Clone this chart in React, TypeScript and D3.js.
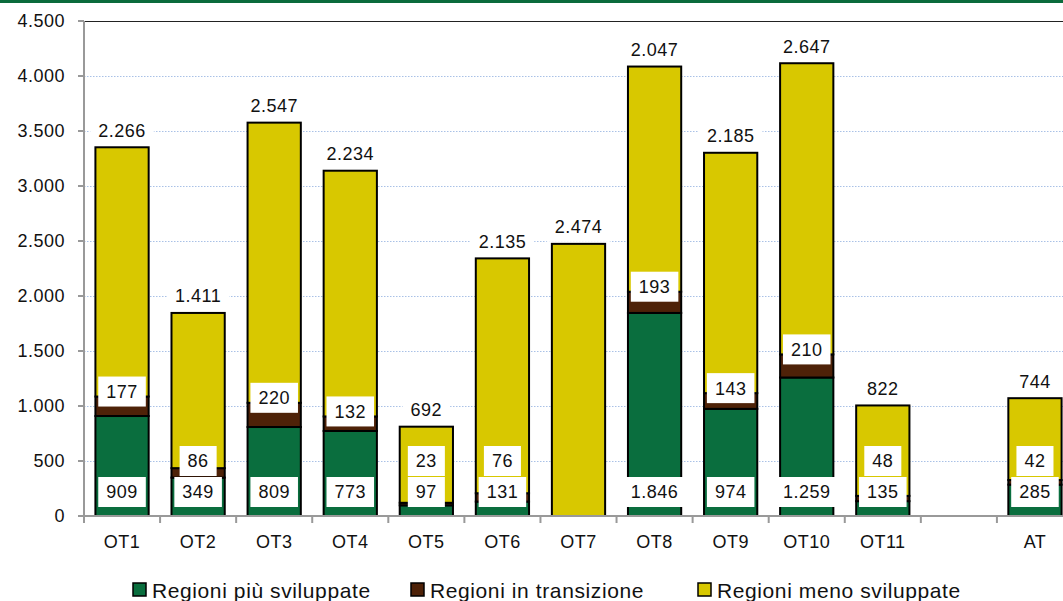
import React, { useEffect, useRef } from 'react';
import * as d3 from 'd3';

const categories = ['OT1', 'OT2', 'OT3', 'OT4', 'OT5', 'OT6', 'OT7', 'OT8', 'OT9', 'OT10', 'OT11', '', 'AT'];
const piuSviluppate = [909, 349, 809, 773, 97, 131, 0, 1846, 974, 1259, 135, null, 285];
const inTransizione = [177, 86, 220, 132, 23, 76, 0, 193, 143, 210, 48, null, 42];
const menoSviluppate = [2266, 1411, 2547, 2234, 692, 2135, 2474, 2047, 2185, 2647, 822, null, 744];
const yTicks = [0, 500, 1000, 1500, 2000, 2500, 3000, 3500, 4000, 4500];
const seriesNames = ['Regioni più sviluppate', 'Regioni in transizione', 'Regioni meno sviluppate'];
const colors = ['#0a6e3e', '#4e2208', '#d8c800'];

const fmt = (v: number) => d3.format(',')(v).replace(/,/g, '.');

const App = () => {
  const svgRef = useRef<SVGSVGElement>(null);

  useEffect(() => {
    const width = 1063;
    const height = 601;
    const svg = d3.select(svgRef.current);
    svg.selectAll('*').remove();
    svg.attr('width', width).attr('height', height);

    const font = '"Liberation Sans", Arial, sans-serif';
    const fs = 18;
    const ls = 0.5;
    const left = 84;
    const bottom = 516;
    const top = 21;

    const keys = categories.map((c, i) => c || `gap${i}`);
    const x = d3.scaleBand().domain(keys).range([left, 1073]).paddingInner(0.3).paddingOuter(0.15);
    const y = d3.scaleLinear().domain([0, 4500]).range([bottom, top]);

    svg.append('rect').attr('width', width).attr('height', height).attr('fill', '#fff');
    svg.append('rect').attr('x', 0).attr('y', 0).attr('width', width).attr('height', 3).attr('fill', '#0b6b3c');

    // grid
    svg.append('g').selectAll('line')
      .data(yTicks.filter(t => t > 0 && t < 4500))
      .enter().append('line')
      .attr('x1', left).attr('x2', width)
      .attr('y1', d => y(d) + 0.5).attr('y2', d => y(d) + 0.5)
      .attr('stroke', '#a9c1e6').attr('stroke-width', 1).attr('stroke-dasharray', '1.5,1.5');
    svg.append('line').attr('x1', left).attr('x2', width)
      .attr('y1', y(4500) + 0.5).attr('y2', y(4500) + 0.5)
      .attr('stroke', '#222').attr('stroke-width', 1);

    // stacks
    const rows = keys.map((k, i) => ({
      key: k,
      a: piuSviluppate[i],
      b: inTransizione[i],
      c: menoSviluppate[i],
    }));
    const stack = d3.stack<any>().keys(['a', 'b', 'c']).value((d, k) => d[k] || 0);
    const layers = stack(rows.filter(r => r.c !== null));

    layers.forEach((layer, li) => {
      svg.append('g').selectAll('rect')
        .data(layer.filter(d => d[1] - d[0] > 0))
        .enter().append('rect')
        .attr('x', d => x(d.data.key)!)
        .attr('width', x.bandwidth())
        .attr('y', d => y(d[1]))
        .attr('height', d => y(d[0]) - y(d[1]))
        .attr('fill', colors[li])
        .attr('stroke', '#000')
        .attr('stroke-width', 2);
    });

    // axes
    svg.append('line').attr('x1', left).attr('x2', left).attr('y1', top).attr('y2', bottom)
      .attr('stroke', '#999').attr('stroke-width', 2);
    svg.append('line').attr('x1', left - 6).attr('x2', width).attr('y1', bottom).attr('y2', bottom)
      .attr('stroke', '#999').attr('stroke-width', 2);
    yTicks.forEach(t => {
      svg.append('line').attr('x1', left - 6).attr('x2', left).attr('y1', y(t)).attr('y2', y(t))
        .attr('stroke', '#999').attr('stroke-width', 2);
      svg.append('text').attr('x', 65).attr('y', y(t)).attr('dy', '0.36em')
        .attr('text-anchor', 'end').attr('font-family', font).attr('font-size', fs)
        .attr('letter-spacing', ls).attr('fill', '#111').text(fmt(t));
    });
    const step = x.step();
    keys.forEach((k, i) => {
      const bx = left + step * i;
      svg.append('line').attr('x1', bx).attr('x2', bx).attr('y1', bottom).attr('y2', bottom + 7)
        .attr('stroke', '#999').attr('stroke-width', 2);
      svg.append('text').attr('x', x(k)! + x.bandwidth() / 2).attr('y', 542).attr('dy', '0.36em')
        .attr('text-anchor', 'middle').attr('font-family', font).attr('font-size', fs)
        .attr('letter-spacing', ls).attr('fill', '#111').text(categories[i]);
    });

    // data labels
    const label = (cx: number, cy: number, txt: string) => {
      const g = svg.append('g');
      const bg = g.append('rect').attr('fill', '#fff');
      const t = g.append('text').attr('x', cx).attr('y', cy).attr('dy', '0.36em')
        .attr('text-anchor', 'middle').attr('font-family', font).attr('font-size', fs)
        .attr('letter-spacing', ls).attr('fill', '#111').text(txt);
      const w = (t.node() as SVGTextElement).getComputedTextLength() + 16;
      bg.attr('x', cx - w / 2).attr('y', cy - 15).attr('width', w).attr('height', 30);
    };

    rows.forEach(r => {
      if (r.c === null) return;
      const cx = x(r.key)! + x.bandwidth() / 2;
      const total = (r.a || 0) + (r.b || 0) + r.c;
      label(cx, y(total) - 17, fmt(r.c));
      if (r.a) {
        const brownTop = y((r.a || 0) + (r.b || 0));
        label(cx, Math.min(brownTop - 5, 461), fmt(r.b!));
        label(cx, 492, fmt(r.a));
      }
    });

    // legend
    const legendX = [133, 411, 698];
    seriesNames.forEach((name, i) => {
      svg.append('rect').attr('x', legendX[i]).attr('y', 583).attr('width', 13).attr('height', 13)
        .attr('fill', colors[i]).attr('stroke', '#000').attr('stroke-width', 1.5);
      svg.append('text').attr('x', legendX[i] + 19).attr('y', 590).attr('dy', '0.36em')
        .attr('font-family', font).attr('font-size', 21).attr('letter-spacing', 0.6)
        .attr('fill', '#111').text(name);
    });
  }, []);

  return (
    <div style={{ position: 'absolute', left: 0, top: 0 }}>
      <svg ref={svgRef} style={{ display: 'block' }}></svg>
    </div>
  );
};

export default App;
